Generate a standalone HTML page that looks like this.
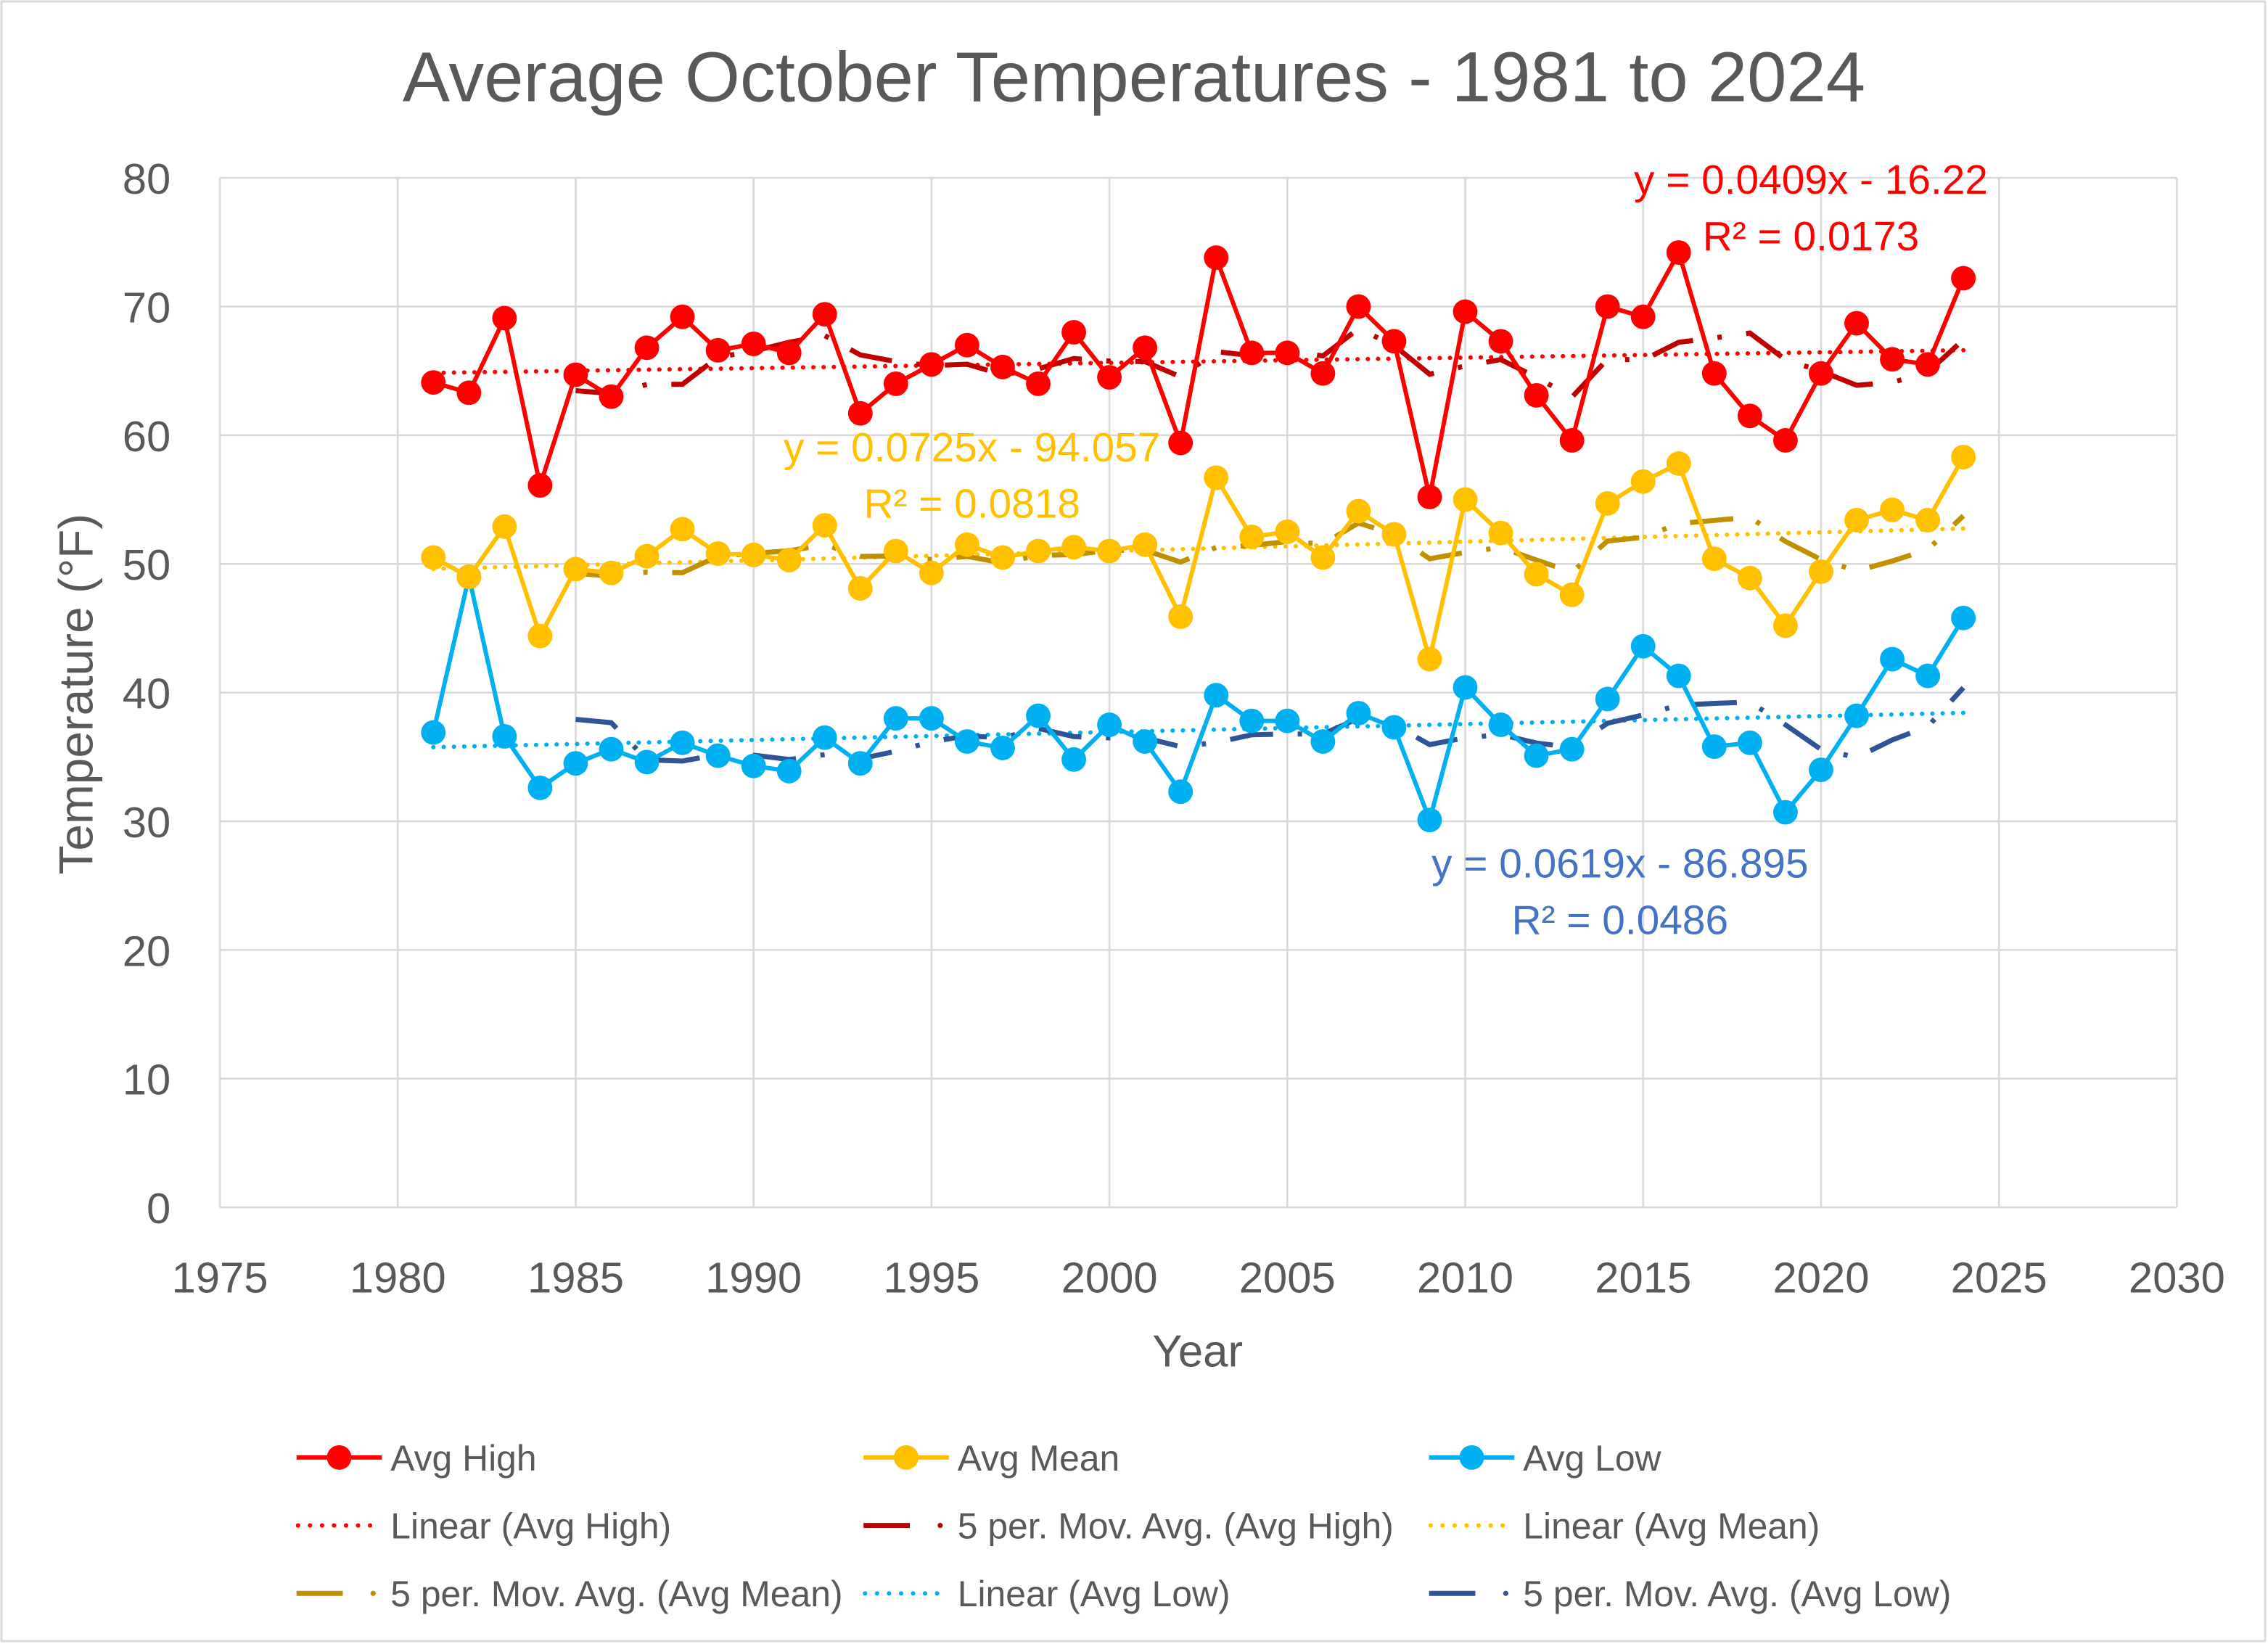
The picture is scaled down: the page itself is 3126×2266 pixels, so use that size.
<!DOCTYPE html>
<html><head><meta charset="utf-8"><style>
html,body{margin:0;padding:0;background:#fff;}
svg{display:block;font-family:"Liberation Sans",sans-serif;}
</style></head><body>
<svg id="chart" width="3126" height="2266" viewBox="0 0 1568 1137" preserveAspectRatio="none" xmlns="http://www.w3.org/2000/svg">
<rect x="1" y="1" width="1565" height="1134" fill="#fff" stroke="#d9d9d9" stroke-width="1.5"/>
<text x="784" y="70" text-anchor="middle" font-size="49" fill="#595959">Average October Temperatures - 1981 to 2024</text>
<g id="grid"></g>
<g id="series"></g>
<text x="828" y="945" text-anchor="middle" font-size="31" fill="#595959">Year</text>
<text transform="translate(64,480) rotate(-90)" text-anchor="middle" font-size="33" fill="#595959">Temperature (°F)</text>
<g font-size="28.5">
<text x="1252" y="134" text-anchor="middle" fill="#ff0000">y = 0.0409x - 16.22</text>
<text x="1252" y="173" text-anchor="middle" fill="#ff0000">R² = 0.0173</text>
<text x="672" y="319" text-anchor="middle" fill="#ffc000">y = 0.0725x - 94.057</text>
<text x="672" y="358" text-anchor="middle" fill="#ffc000">R² = 0.0818</text>
<text x="1120" y="607" text-anchor="middle" fill="#4472c4">y = 0.0619x - 86.895</text>
<text x="1120" y="646" text-anchor="middle" fill="#4472c4">R² = 0.0486</text>
</g>
<g id="legend" font-size="25" fill="#595959"></g>
</svg>
<script>
const years=[];for(let y=1981;y<=2024;y++)years.push(y);
const avgHigh=[64.1,63.3,69.1,56.1,64.7,63.0,66.8,69.2,66.6,67.1,66.4,69.4,61.7,64.0,65.5,67.0,65.3,64.0,68.0,64.5,66.8,59.4,73.8,66.4,66.4,64.8,70.0,67.3,55.2,69.6,67.3,63.1,59.6,70.0,69.2,74.2,64.8,61.5,59.6,64.8,68.7,65.9,65.5,72.2];
const avgMean=[50.5,49.0,52.9,44.4,49.6,49.3,50.6,52.7,50.8,50.7,50.3,53.0,48.1,51.0,49.3,51.5,50.5,51.0,51.3,51.0,51.5,45.9,56.7,52.1,52.5,50.5,54.1,52.3,42.6,55.0,52.4,49.2,47.6,54.7,56.4,57.8,50.4,48.9,45.2,49.4,53.4,54.2,53.4,58.3];
const avgLow=[36.9,49.0,36.6,32.6,34.5,35.6,34.6,36.1,35.1,34.3,33.9,36.5,34.5,38.0,38.0,36.2,35.7,38.2,34.8,37.5,36.2,32.3,39.8,37.8,37.8,36.2,38.4,37.3,30.1,40.4,37.5,35.1,35.6,39.5,43.6,41.3,35.8,36.1,30.7,34.0,38.2,42.6,41.3,45.8];
const xTicks=[1975,1980,1985,1990,1995,2000,2005,2010,2015,2020,2025,2030];
const yTicks=[0,10,20,30,40,50,60,70,80];
const NS="http://www.w3.org/2000/svg";
const L=152,R=1505,T=123,B=835;
const xs=v=>L+(v-1975)/(2030-1975)*(R-L);
const ys=v=>B-(v/80)*(B-T);
function mk(tag,attrs,parent){const e=document.createElementNS(NS,tag);for(const k in attrs)e.setAttribute(k,attrs[k]);parent.appendChild(e);return e;}
const grid=document.getElementById('grid');
yTicks.forEach(t=>{
 const l=mk('line',{x1:L,x2:R,y1:ys(t),y2:ys(t),stroke:'#d9d9d9','stroke-width':1.3},grid);
 
 
 const tx=mk('text',{x:118,y:ys(t)+11,'text-anchor':'end','font-size':30,fill:'#595959'},grid);tx.textContent=t;
 
 
});
xTicks.forEach(t=>{
 const l=mk('line',{x1:xs(t),x2:xs(t),y1:T,y2:B,stroke:'#d9d9d9','stroke-width':1.3},grid);
 
 
 const tx=mk('text',{x:xs(t),y:894,'text-anchor':'middle','font-size':30,fill:'#595959'},grid);tx.textContent=t;
 
 
});
const g=document.getElementById('series');
const MAD="30 17 3 17";
function draw(vals,col,maCol,name){
 const n=vals.length;let sx=0,sy=0,sxx=0,sxy=0;
 years.forEach((x,i)=>{sx+=x;sy+=vals[i];sxx+=x*x;sxy+=x*vals[i];});
 const m=(n*sxy-sx*sy)/(n*sxx-sx*sx),b=(sy-m*sx)/n;
 const tl=mk('line',{x1:xs(1981),y1:ys(m*1981+b),x2:xs(2024),y2:ys(m*2024+b),stroke:col,'stroke-width':3,'stroke-dasharray':'0.1 7','stroke-linecap':'round'},g);
 
 
 const pts=[];for(let i=4;i<n;i++){let s=0;for(let k=i-4;k<=i;k++)s+=vals[k];pts.push(xs(years[i])+','+ys(s/5));}
 const ma=mk('polyline',{points:pts.join(' '),fill:'none',stroke:maCol,'stroke-width':3.5,'stroke-dasharray':MAD},g);
 
 
 const pl=mk('polyline',{points:vals.map((v,i)=>xs(years[i])+','+ys(v)).join(' '),fill:'none',stroke:col,'stroke-width':3,'stroke-linejoin':'round'},g);
 
 
 vals.forEach((v,i)=>{const c=mk('circle',{cx:xs(years[i]),cy:ys(v),r:8.5,fill:col},g);
  
  });
}
draw(avgLow,'#00b0f0','#2f5597','avg-low');
draw(avgMean,'#ffc000','#bf9000','avg-mean');
draw(avgHigh,'#ff0000','#c00000','avg-high');
const lg=document.getElementById('legend');
const items=[
 ['Avg High','#ff0000','marker'],['Avg Mean','#ffc000','marker'],['Avg Low','#00b0f0','marker'],
 ['Linear (Avg High)','#ff0000','dot'],['5 per. Mov. Avg. (Avg High)','#c00000','ma'],['Linear (Avg Mean)','#ffc000','dot'],
 ['5 per. Mov. Avg. (Avg Mean)','#bf9000','ma'],['Linear (Avg Low)','#00b0f0','dot'],['5 per. Mov. Avg. (Avg Low)','#2f5597','ma']];
const cols=[205,597,988],rows=[1008,1055,1102];
items.forEach((it,i)=>{
 const x=cols[i%3],y=rows[Math.floor(i/3)];
 const grp=mk('g',{},lg);
 
 
 if(it[2]==='marker'){mk('line',{x1:x,x2:x+59,y1:y,y2:y,stroke:it[1],'stroke-width':3},grp);mk('circle',{cx:x+29.5,cy:y,r:8.5,fill:it[1]},grp);}
 else if(it[2]==='dot'){mk('line',{x1:x+1,x2:x+59,y1:y,y2:y,stroke:it[1],'stroke-width':3,'stroke-dasharray':'0.1 8.2','stroke-linecap':'round'},grp);}
 else{mk('line',{x1:x,x2:x+32,y1:y,y2:y,stroke:it[1],'stroke-width':3.5},grp);mk('circle',{cx:x+53,cy:y,r:1.8,fill:it[1]},grp);}
 const t=mk('text',{x:x+65,y:y+9},grp);t.textContent=it[0];
});
</script>
</body></html>
